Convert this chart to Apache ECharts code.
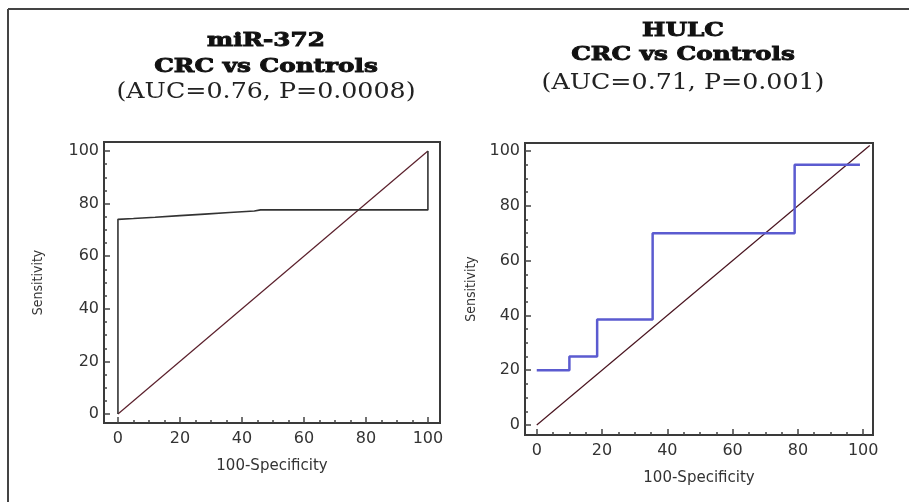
<!DOCTYPE html>
<html>
<head>
<meta charset="utf-8">
<script src="https://cdn.jsdelivr.net/npm/echarts@6/dist/echarts.min.js"></script>
<style>
    html, body { margin: 0; padding: 0; background: #fff; }
    #chart { width: 909px; height: 502px; }
</style>
</head>
<body>
<div id="chart"></div>
<script>
    // values
    var majorTicks = [0, 20, 40, 60, 80, 100]
    var minorTicks = [0, 5, 10, 15, 20, 25, 30, 35, 40, 45, 50, 55, 60, 65, 70, 75, 80, 85, 90, 95, 100]

    // miR-372 ROC (100-specificity, sensitivity)
    var mirSpec = [0, 0, 5, 12, 20, 28, 36, 44, 46, 100, 100]
    var mirSens = [0, 74, 74.3, 74.8, 75.4, 76, 76.6, 77.2, 77.6, 77.6, 100]
    var mirDiagX = [0, 100]
    var mirDiagY = [0, 100]

    // HULC ROC
    var hulcSpec = [0, 10, 10, 18.5, 18.5, 35.5, 35.5, 79, 79, 99]
    var hulcSens = [20, 20, 25, 25, 38.5, 38.5, 70, 70, 95, 95]
    var hulcDiagX = [0, 102]
    var hulcDiagY = [0, 102]

    var titles = [
        ['miR-372', 'CRC vs Controls', '(AUC=0.76, P=0.0008)'],
        ['HULC', 'CRC vs Controls', '(AUC=0.71, P=0.001)']
    ]

    function pairs(xs, ys) {
        return xs.map(function (x, i) { return [x, ys[i]] })
    }

    var tickFont = { fontFamily: 'DejaVu Sans', fontSize: 16, color: '#333' }
    var nameFont = { fontFamily: 'DejaVu Sans', fontSize: 15, color: '#333' }
    var tickLine = { color: '#444', width: 1.5 }

    function xAxes(grid, min, max) {
        return [{
            gridIndex: grid, type: 'value', position: 'bottom', min: min, max: max,
            axisLine: { show: false, onZero: false }, splitLine: { show: false },
            axisTick: { inside: true, length: 6, customValues: majorTicks, lineStyle: tickLine },
            axisLabel: Object.assign({ customValues: majorTicks, margin: 8 }, tickFont),
            name: '100-Specificity', nameLocation: 'middle', nameGap: 36,
            nameTextStyle: nameFont
        }, {
            gridIndex: grid, type: 'value', position: 'bottom', min: min, max: max,
            axisLine: { show: false, onZero: false }, splitLine: { show: false }, axisLabel: { show: false },
            axisTick: { inside: true, length: 3, customValues: minorTicks, lineStyle: tickLine }
        }]
    }

    function yAxes(grid, min, max, gap) {
        return [{
            gridIndex: grid, type: 'value', position: 'left', min: min, max: max,
            axisLine: { show: false, onZero: false }, splitLine: { show: false },
            axisTick: { inside: true, length: 6, customValues: majorTicks, lineStyle: tickLine },
            axisLabel: Object.assign({ customValues: majorTicks, margin: 5 }, tickFont),
            name: 'Sensitivity', nameLocation: 'middle', nameGap: gap,
            nameTextStyle: { fontFamily: "'DejaVu Sans Condensed', 'Liberation Sans Narrow', sans-serif", fontSize: 14, color: '#333' }
        }, {
            gridIndex: grid, type: 'value', position: 'left', min: min, max: max,
            axisLine: { show: false, onZero: false }, splitLine: { show: false }, axisLabel: { show: false },
            axisTick: { inside: true, length: 3, customValues: minorTicks, lineStyle: tickLine }
        }]
    }

    // heading lines: two heavy slab lines, then the light AUC line (stretched like the original)
    function titleTexts(lines, cx, ys) {
        return lines.map(function (t, i) {
            var heavy = i < 2
            return {
                type: 'text', x: cx, y: ys[i], scaleX: heavy ? 1.3 : 1.1,
                style: {
                    text: t, textAlign: 'center', textVerticalAlign: 'middle',
                    fontFamily: 'DejaVu Serif', fontWeight: heavy ? 900 : 'normal',
                    fontSize: heavy ? 19 : 23, fill: heavy ? '#111' : '#222',
                    stroke: heavy ? '#111' : null, lineWidth: heavy ? 0.9 : 0
                }
            }
        })
    }

    var chart = echarts.init(document.getElementById('chart'))
    chart.setOption({
        animation: false,
        backgroundColor: '#fff',
        grid: [
            { left: 104, right: 469, top: 142, bottom: 79, show: true, borderColor: '#3a3a3a', borderWidth: 2, backgroundColor: 'transparent' },
            { left: 525, right: 36, top: 143, bottom: 67, show: true, borderColor: '#3a3a3a', borderWidth: 2, backgroundColor: 'transparent' }
        ],
        xAxis: xAxes(0, -4.5, 103.9).concat(xAxes(1, -3.6, 103)),
        yAxis: yAxes(0, -3.4, 103.4, 59).concat(yAxes(1, -3.65, 102.9, 47)),
        series: [
            {
                type: 'line', xAxisIndex: 0, yAxisIndex: 0, data: pairs(mirDiagX, mirDiagY),
                showSymbol: false, lineStyle: { color: '#5a1f2b', width: 1.2 }
            },
            {
                type: 'line', xAxisIndex: 0, yAxisIndex: 0, data: pairs(mirSpec, mirSens),
                showSymbol: false, lineStyle: { color: '#333', width: 1.6 }
            },
            {
                type: 'line', xAxisIndex: 2, yAxisIndex: 2, data: pairs(hulcDiagX, hulcDiagY),
                showSymbol: false, lineStyle: { color: '#4a1520', width: 1.2 }
            },
            {
                type: 'line', xAxisIndex: 2, yAxisIndex: 2, data: pairs(hulcSpec, hulcSens),
                showSymbol: false, lineStyle: { color: '#5b5bd0', width: 2.5 }
            }
        ],
        graphic: [
            { type: 'line', shape: { x1: 8, y1: 9, x2: 909, y2: 9 }, style: { stroke: '#444', lineWidth: 2 } },
            { type: 'line', shape: { x1: 8, y1: 9, x2: 8, y2: 502 }, style: { stroke: '#444', lineWidth: 2 } }
        ].concat(titleTexts(titles[0], 266, [41, 67, 92]))
         .concat(titleTexts(titles[1], 683, [31, 55, 83]))
    })
</script>
</body>
</html>
